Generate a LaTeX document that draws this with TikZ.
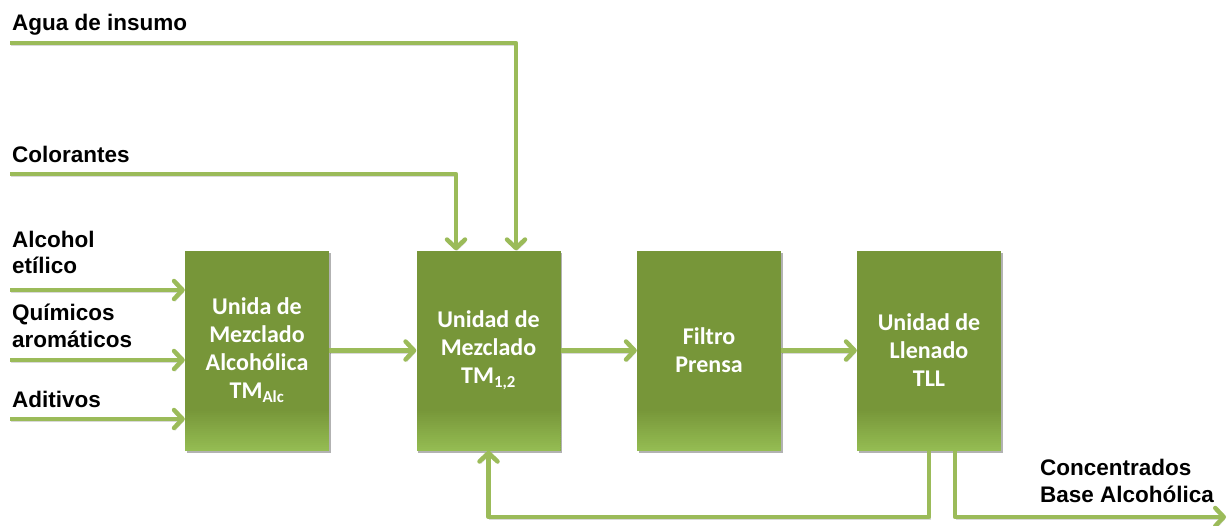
\documentclass[tikz,border=0pt]{standalone}
\usepackage{fontspec}
\setmainfont{Liberation Sans}
\newfontfamily\boxfont{Carlito}
\usetikzlibrary{arrows.meta,shadows}

\definecolor{flowgreen}{RGB}{155,187,89}
\definecolor{boxgreen}{RGB}{119,150,57}
\definecolor{boxlight}{RGB}{148,188,82}

\tikzset{
  flow/.style={
    draw=flowgreen, line width=4.5pt, line join=round,
    -{Straight Barb[length=8.5pt,width=18pt,line cap=round,line join=round]},
    preaction={draw=black, opacity=.15,
      transform canvas={shift={(1pt,-2.5pt)}}}
  },
  unitbox/.style={
    minimum width=144pt, minimum height=200pt, inner sep=0pt,
    fill=boxgreen, text=white, align=center,
    font=\boxfont\bfseries\fontsize{24}{28}\selectfont,
    drop shadow={shadow xshift=1.5pt, shadow yshift=-2pt, opacity=.3, fill=black},
    % lighter band fading in towards the bottom edge
    path picture={
      \foreach \i in {0,...,20}{
        \pgfmathsetmacro\p{100-5*\i}
        \pgfmathsetmacro\ya{2*\i}
        \pgfmathsetmacro\yb{2*\i+2.2}
        \fill[boxlight!\p!boxgreen]
          ([yshift=\ya pt]path picture bounding box.south west)
          rectangle ([yshift=\yb pt]path picture bounding box.south east);
      }
    }
  },
  inlabel/.style={anchor=base west, inner sep=0pt,
    font=\bfseries\fontsize{22.5}{26}\selectfont}
}

\begin{document}
\begin{tikzpicture}[x=1pt, y=-1pt]
  \useasboundingbox (0,0) rectangle (1228,525);

  % process units
  \node[unitbox] (mixalc) at (257,350.5) {Unida de\\Mezclado\\Alcohólica\\TM\textsubscript{Alc}};
  \node[unitbox] (mix)    at (488.5,350.5) {Unidad de\\Mezclado\\TM\textsubscript{1,2}};
  \node[unitbox] (filter) at (709,350.5) {Filtro\\Prensa};
  \node[unitbox] (fill)   at (929,350.5) {Unidad de\\Llenado\\TLL};

  % input and output labels
  \node[inlabel] (lagua)  at (12,30)  {Agua de insumo};
  \node[inlabel] (lcolor) at (12,162) {Colorantes};
  \node[inlabel] (lalc1)  at (12,247) {Alcohol};
  \node[inlabel] (lalc2)  at (12,273) {etílico};
  \node[inlabel] (lqui1)  at (12,320) {Químicos};
  \node[inlabel] (lqui2)  at (12,347) {aromáticos};
  \node[inlabel] (ladit)  at (12,407) {Aditivos};
  \node[inlabel] (lout1)  at (1040,475) {Concentrados};
  \node[inlabel] (lout2)  at (1040,502) {Base Alcohólica};

  % free ends of the streams
  \coordinate (agua)  at (10,43);
  \coordinate (color) at (10,174);
  \coordinate (alc)   at (10,290);
  \coordinate (qui)   at (10,360);
  \coordinate (adit)  at (10,419);
  \coordinate (prod)  at (1226,517);

  % feed streams
  \draw[flow] (agua)  -| ([xshift=27.5pt]mix.north);
  \draw[flow] (color) -| ([xshift=-32.5pt]mix.north);
  \draw[flow] (alc)  -- (alc -| mixalc.west);
  \draw[flow] (qui)  -- (qui -| mixalc.west);
  \draw[flow] (adit) -- (adit -| mixalc.west);

  % main line
  \draw[flow] (mixalc.east) -- (mix.west);
  \draw[flow] (mix.east) -- (filter.west);
  \draw[flow] (filter.east) -- (fill.west);

  % recycle and product
  \draw[flow] (fill.south) -- (fill.south |- prod) -| (mix.south);
  \draw[flow] ([xshift=26pt]fill.south) |- (prod);
\end{tikzpicture}
\end{document}
